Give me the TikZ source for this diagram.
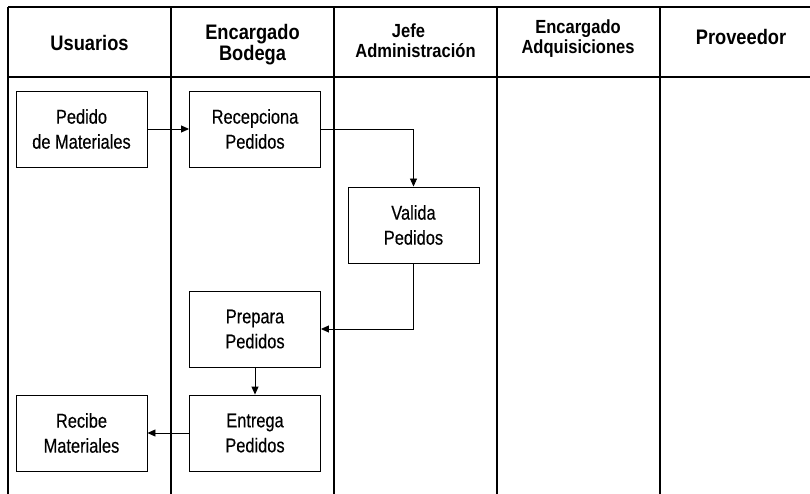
\documentclass[tikz,border=0pt]{standalone}
\usepackage{fontspec}
\newfontfamily\bodyfont{Liberation Sans}[FakeStretch=0.82,FakeBold=0.3]
\newfontfamily\headfont{Liberation Sans}[FakeStretch=0.87,BoldFeatures={FakeStretch=0.87}]
\usetikzlibrary{arrows.meta}
\tikzset{
  lane/.style={line width=1.2pt},
  task/.style={draw, line width=0.9pt, minimum width=131pt, minimum height=76pt,
    inner sep=0pt, align=center, font=\bodyfont\fontsize{20}{25}\selectfont},
  head/.style={align=center, inner sep=0pt, font=\headfont\bfseries\fontsize{21}{21}\selectfont},
  headsmall/.style={align=center, inner sep=0pt, font=\headfont\bfseries\fontsize{19}{20}\selectfont},
  flow/.style={-{Triangle[length=8pt,width=7pt]}, line width=0.9pt}
}
\begin{document}
\begin{tikzpicture}[x=1pt,y=-1pt]
\useasboundingbox (0,0) rectangle (810,494);
% lanes
\coordinate (tl) at (8,7);
\coordinate (tr) at (810,7);
\coordinate (hl) at (8,77);
\coordinate (hr) at (810,77);
\draw[lane] (tl) -- (tr);
\draw[lane] (hl) -- (hr);
\foreach \x/\n in {8/a,171/b,334/c,497/d,660/e}{
  \coordinate (v\n1) at (\x,7);
  \coordinate (v\n2) at (\x,494);
  \draw[lane] (v\n1) -- (v\n2);
}
% headers
\node[head] (hU) at (89.5,42.5) {Usuarios};
\node[head] (hB) at (252.5,45) {Encargado\\Bodega};
\node[headsmall] (hJ) at (415.5,40.5) {Jefe\kern14pt\\Administración};
\node[headsmall] (hA) at (578,38.4) {Encargado\\Adquisiciones};
\node[head] (hP) at (741,37.4) {Proveedor};
% tasks
\node[task] (ped) at (81.5,129) {Pedido\\de Materiales};
\node[task] (rec) at (255,129) {Recepciona\\Pedidos};
\node[task] (val) at (413.5,225) {Valida\\Pedidos};
\node[task] (pre) at (255,329) {Prepara\\Pedidos};
\node[task] (ent) at (255,433) {Entrega\\Pedidos};
\node[task] (rcb) at (81.5,433) {Recibe\\Materiales};
% flows
\draw[flow] (ped.east) -- (rec.west);
\draw[flow] (rec.east) -| (val.north);
\draw[flow] (val.south) |- (pre.east);
\draw[flow] (pre.south) -- (ent.north);
\draw[flow] (ent.west) -- (rcb.east);
\end{tikzpicture}
\end{document}
